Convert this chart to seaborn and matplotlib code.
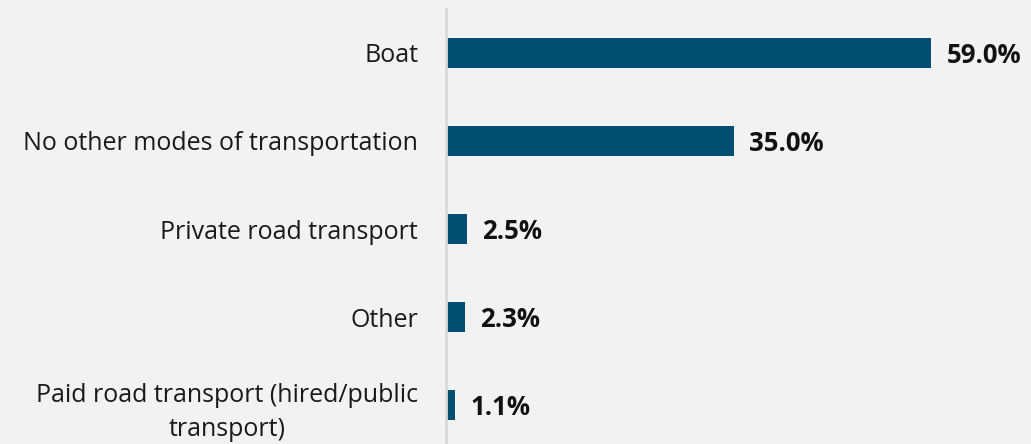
import matplotlib
matplotlib.use("Agg")
import matplotlib.pyplot as plt
import seaborn as sns
import pandas as pd

categories = [
    "Boat",
    "No other modes of transportation",
    "Private road transport",
    "Other",
    "Paid road transport (hired/public\ntransport)",
]
shares = [59.0, 35.0, 2.5, 2.3, 1.1]
value_labels = ["59.0%", "35.0%", "2.5%", "2.3%", "1.1%"]

df = pd.DataFrame({"category": categories, "share": shares})

sns.set_theme(style="white")
plt.rcParams["font.family"] = ["Open Sans", "DejaVu Sans"]

bg = "#f2f2f2"
bar_color = "#004f71"

fig = plt.figure(figsize=(10.31, 4.44), dpi=100, facecolor=bg)
ax = fig.add_axes([446 / 1031, (444 - 449) / 444, (1031 - 446) / 1031, 440 / 444])
ax.set_facecolor(bg)

sns.barplot(data=df, x="share", y="category", color=bar_color, width=0.35,
            saturation=1, linewidth=0, ax=ax, orient="h")

ax.set_xlim(0, 585 / 8.22)
ax.set_ylim(4.5, -0.5)
ax.set_xlabel("")
ax.set_ylabel("")
ax.set_xticks([])
ax.tick_params(axis="y", length=0, pad=20, labelsize=18, labelcolor="#1a1a1a")
for lbl in ax.get_yticklabels():
    lbl.set_horizontalalignment("right")
    lbl.set_multialignment("center")
    lbl.set_linespacing(1.45)

for s in ["top", "right", "bottom"]:
    ax.spines[s].set_visible(False)
ax.spines["left"].set_color("#d9d9d9")
ax.spines["left"].set_linewidth(2)

for i, (v, t) in enumerate(zip(shares, value_labels)):
    ax.annotate(t, xy=(v, i), xytext=(11, -2), textcoords="offset points",
                ha="left", va="center", fontsize=18.5, fontweight="bold",
                color="#111111")

fig.savefig("out.png", dpi=100, facecolor=bg)
